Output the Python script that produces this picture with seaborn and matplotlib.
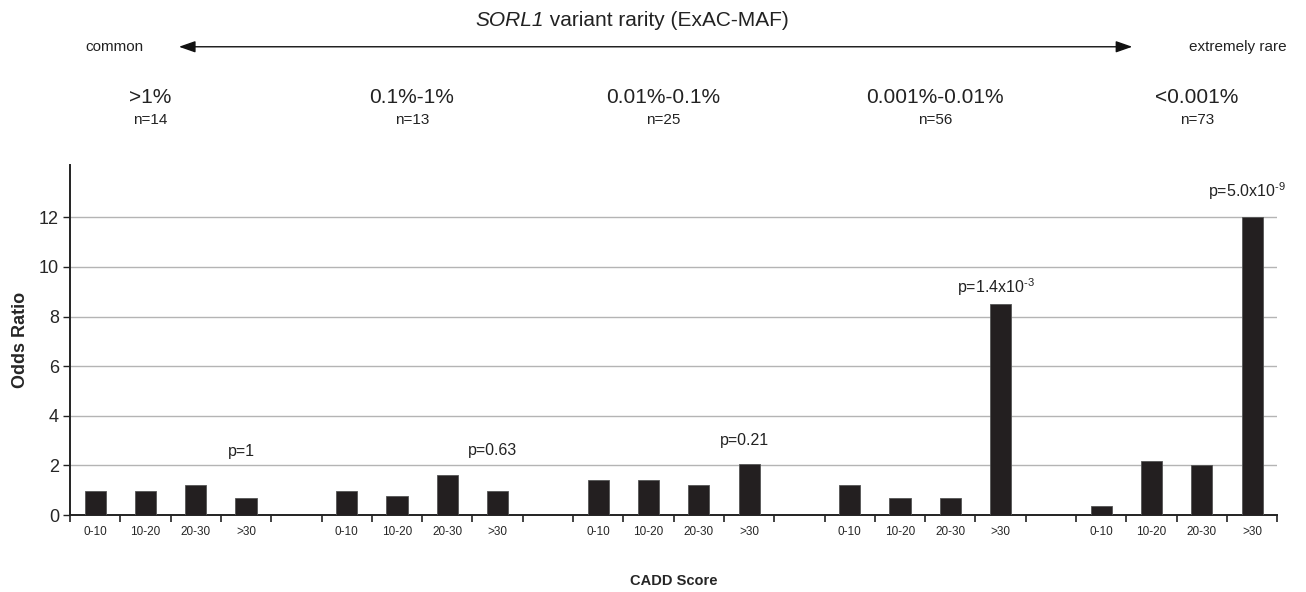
import numpy as np
import pandas as pd
import matplotlib
matplotlib.use("Agg")
import matplotlib.pyplot as plt
import seaborn as sns

# data
rarity_bins = [">1%", "0.1%-1%", "0.01%-0.1%", "0.001%-0.01%", "<0.001%"]
n_variants = [14, 13, 25, 56, 73]
cadd_bins = ["0-10", "10-20", "20-30", ">30"]
odds_ratio = [
    [0.95, 0.95, 1.2, 0.7],
    [0.95, 0.75, 1.6, 0.95],
    [1.4, 1.4, 1.2, 2.05],
    [1.2, 0.7, 0.7, 8.5],
    [0.38, 2.18, 2.0, 12.0],
]
p_labels = ["p=1", "p=0.63", "p=0.21",
            r"p=1.4x10$^{\text{-3}}$", r"p=5.0x10$^{\text{-9}}$"]
p_heights = [2.55, 2.6, 3.0, 9.2, 13.05]

BAR = "#231f20"
GRID = "#b4b4b4"
TXT = "#222222"

sns.set_theme(style="white")
plt.rcParams["font.family"] = ["Liberation Sans", "DejaVu Sans"]
plt.rcParams["mathtext.fontset"] = "custom"
plt.rcParams["mathtext.rm"] = "Liberation Sans"
plt.rcParams["mathtext.it"] = "Liberation Sans:italic"

rows = []
for g, vals in enumerate(odds_ratio):
    for k, v in enumerate(vals):
        rows.append({"pos": g * 5 + k, "cadd": cadd_bins[k], "group": rarity_bins[g], "or": v})
df = pd.DataFrame(rows)

fig = plt.figure(figsize=(13.06, 5.92), dpi=100)
ax = fig.add_axes([0.0536, 0.130, 0.9244, 0.591])

for y in range(2, 13, 2):
    ax.axhline(y, color=GRID, lw=1.0, zorder=0)

sns.barplot(data=df, x="pos", y="or", native_scale=True, width=0.42,
            color=BAR, edgecolor="#555555", linewidth=0.6, saturation=1,
            ax=ax, zorder=3)

ax.set_xlim(-0.5, 23.5)
ax.set_ylim(0, 14.1)
ax.set_yticks(range(0, 13, 2))
ax.tick_params(axis="y", which="major", direction="out", length=5, width=1,
               color=TXT, labelsize=13, pad=3, left=True)
ax.set_xticks(df["pos"])
ax.set_xticklabels(df["cadd"], fontsize=8.5)
ax.tick_params(axis="x", which="major", length=0, pad=8)
ax.set_xticks(np.arange(-0.5, 24, 1), minor=True)
ax.tick_params(axis="x", which="minor", direction="out", length=5, width=1.2,
               color=TXT, bottom=True)

for side in ["top", "right"]:
    ax.spines[side].set_visible(False)
for side in ["left", "bottom"]:
    ax.spines[side].set_color(TXT)
    ax.spines[side].set_linewidth(1.4)

ax.set_xlabel("CADD Score", fontsize=10.5, fontweight="bold", labelpad=26)
ax.set_ylabel("Odds Ratio", fontsize=13, fontweight="bold", labelpad=7)
ax.grid(False)

# p-values above the >30 bars
for g, (lab, h) in enumerate(zip(p_labels, p_heights)):
    ax.text(g * 5 + 3 - 0.1, h, lab, ha="center", va="center", fontsize=11.5,
            color=TXT)

# header: rarity classes
trans = matplotlib.transforms.blended_transform_factory(ax.transData, fig.transFigure)
label_x = [1.1, 6.3, 11.3, 16.7, 21.9]
for x, lab, n in zip(label_x, rarity_bins, n_variants):
    ax.text(x, 0.836, lab, transform=trans, ha="center", va="center",
            fontsize=15, color=TXT)
    ax.text(x, 0.797, f"n={n}", transform=trans, ha="center", va="center",
            fontsize=11, color=TXT)

fig.text(0.4165, 0.965, "SORL1", ha="right", va="center", fontsize=15,
         style="italic", color=TXT)
fig.text(0.4165, 0.965, " variant rarity (ExAC-MAF)", ha="left", va="center",
         fontsize=15, color=TXT)
fig.text(0.088, 0.921, "common", ha="center", va="center", fontsize=11, color=TXT)
fig.text(0.948, 0.921, "extremely rare", ha="center", va="center", fontsize=11,
         color=TXT)
fig.add_artist(matplotlib.patches.FancyArrowPatch(
    (0.137, 0.921), (0.867, 0.921), transform=fig.transFigure,
    arrowstyle="<|-|>,head_length=10,head_width=3.5", color="#111111", lw=1.0,
    mutation_scale=1, shrinkA=0, shrinkB=0))

fig.savefig("out.png", dpi=100)
